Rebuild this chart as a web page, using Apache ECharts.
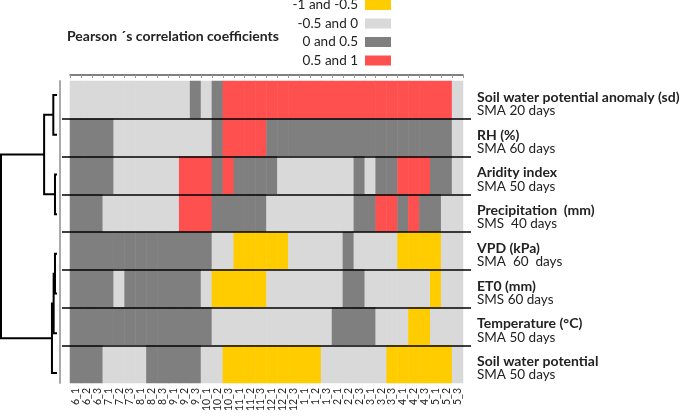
<!DOCTYPE html>
<html>
<head>
<meta charset="utf-8">
<script src="https://cdn.jsdelivr.net/npm/echarts@6/dist/echarts.min.js"></script>
<style>html,body{margin:0;padding:0;background:#fff}#c{width:685px;height:416px}</style>
</head>
<body>
<div id="c"></div>
<script>
// Time periods (month_dekad)
const periods = ['6_1','6_2','6_3','7_1','7_2','7_3','8_1','8_2','8_3','9_1','9_2','9_3',
  '10_1','10_2','10_3','11_1','11_2','11_3','12_1','12_2','12_3','1_1','1_2','1_3',
  '2_1','2_2','2_3','3_1','3_2','3_3','4_1','4_2','4_3','5_1','5_2','5_3'];

// Variables (rows, top to bottom)
const varNames = ['Soil water potential anomaly (sd)','RH (%)','Aridity index','Precipitation  (mm)',
  'VPD (kPa)','ET0 (mm)','Temperature (°C)','Soil water potential'];
const varWindows = ['SMA 20 days','SMA 60 days','SMA 50 days','SMS  40 days',
  'SMA  60  days','SMS 60 days','SMA 50 days','SMA 50 days'];

// Correlation class legend
const classLabels = ['-1 and -0.5','-0.5 and 0','0 and 0.5','0.5 and 1'];
const classColors = ['#FFCC00','#D9D9D9','#7F7F7F','#FF5050'];

// Class of Pearson correlation per period (0: -1..-0.5, 1: -0.5..0, 2: 0..0.5, 3: 0.5..1)
const swpAnomaly = [1,1,1,1,1,1,1,1,1,1,1,2,1,2,3,3,3,3,3,3,3,3,3,3,3,3,3,3,3,3,3,3,3,3,3,1];
const rh         = [2,2,2,2,1,1,1,1,1,1,1,1,1,2,3,3,3,3,2,2,2,2,2,2,2,2,2,2,2,2,2,2,2,2,2,1];
const aridity    = [2,2,2,2,1,1,1,1,1,1,3,3,3,2,3,2,2,2,2,1,1,1,1,1,1,1,2,1,2,2,3,3,3,2,2,1];
const precip     = [2,2,2,1,1,1,1,1,1,1,3,3,3,2,2,2,2,2,1,1,1,1,1,1,1,1,2,2,3,3,2,3,2,2,1,1];
const vpd        = [2,2,2,2,2,2,2,2,2,2,2,2,2,1,1,0,0,0,0,0,1,1,1,1,1,2,1,1,1,1,0,0,0,0,1,1];
const et0        = [2,2,2,2,1,2,2,2,2,2,2,2,1,0,0,0,0,0,1,1,1,1,1,1,1,2,2,1,1,1,1,1,1,0,1,1];
const temp       = [2,2,2,2,2,2,2,2,2,2,2,2,2,1,1,1,1,1,1,1,1,1,1,1,2,2,2,2,1,1,1,0,0,1,1,1];
const swp        = [2,2,2,1,1,1,1,2,2,2,2,2,1,1,0,0,0,0,0,0,0,0,0,1,1,1,1,1,1,0,0,0,0,0,0,1];
const rows = [swpAnomaly, rh, aridity, precip, vpd, et0, temp, swp];

// Dendrogram merges: [childA, childB, height]; leaves 0..7, new nodes 8..
const merges = [[0,1,0.66],[2,3,0.36],[8,9,2.3],[4,5,0.36],[11,6,0.6],[12,7,0.9],[10,13,10]];

const cells = [];
rows.forEach((r, yi) => r.forEach((v, xi) => cells.push([xi, yi, v])));

const nodes = [];
for (let i = 0; i < 8; i++) nodes.push({h: 0, y: i});
const dendroLines = [];
merges.forEach(([a, b, h]) => {
  const na = nodes[a], nb = nodes[b];
  dendroLines.push({coords: [[na.h, na.y], [h, na.y], [h, nb.y], [nb.h, nb.y]]});
  nodes.push({h: h, y: (na.y + nb.y) / 2});
});

const font = 'Lato, "Open Sans", sans-serif';
const chart = echarts.init(document.getElementById('c'), null, {renderer: 'canvas'});
chart.setOption({
  animation: false,
  title: {
    text: 'Pearson ´s correlation coefficients', left: 62, top: 24,
    textStyle: {fontFamily: font, fontWeight: 'bold', fontSize: 14, color: '#222'}
  },
  visualMap: {
    type: 'piecewise', seriesIndex: 0, dimension: 2, orient: 'vertical', inverse: true,
    right: 294, top: -2, padding: 0, itemWidth: 26, itemHeight: 10, itemGap: 4.5,
    itemSymbol: 'rect', align: 'right', textGap: 7, z: 20,
    pieces: classLabels.map((l, i) => ({value: i, label: l, color: classColors[i]})),
    textStyle: {fontFamily: font, fontSize: 13.5, color: '#222'}
  },
  grid: [
    {left: 70, right: 222, top: 81, bottom: 33},
    {left: 62, right: 214, top: 118.75, height: 226.5},
    {left: 1, width: 56, top: 95, height: 278}
  ],
  xAxis: [
    {type: 'category', gridIndex: 0, data: periods, position: 'bottom',
     axisLine: {show: false}, axisTick: {show: false},
     axisLabel: {rotate: 90, fontSize: 10.5, margin: 5, fontFamily: font, color: '#222', interval: 0}},
    {type: 'category', gridIndex: 0, data: periods, position: 'top', offset: 6,
     axisLine: {show: true, lineStyle: {color: '#555', width: 1.5}},
     axisTick: {show: true, inside: true, length: 3, interval: 0, lineStyle: {color: '#999'}},
     axisLabel: {show: false}},
    {type: 'value', gridIndex: 1, min: 0, max: 1, show: false},
    {type: 'value', gridIndex: 2, min: 0, max: 10, inverse: true, show: false}
  ],
  yAxis: [
    {type: 'category', gridIndex: 0, data: varNames, inverse: true, position: 'right',
     axisLine: {show: false}, axisTick: {show: false},
     axisLabel: {
       margin: 14, align: 'left', padding: [8, 0, 0, 0],
       formatter: (v, i) => '{b|' + v + '}\n{n|' + varWindows[i] + '}',
       rich: {
         b: {fontFamily: font, fontWeight: 'bold', fontSize: 14, color: '#222', lineHeight: 14},
         n: {fontFamily: font, fontSize: 13.5, color: '#222', lineHeight: 13}
       }
     }},
    {type: 'category', gridIndex: 0, data: varNames, inverse: true, position: 'left', offset: 10,
     axisLine: {show: true, lineStyle: {color: '#aaa', width: 2}}, axisTick: {show: false},
     axisLabel: {show: false}},
    {type: 'value', gridIndex: 1, min: 0, max: 6, interval: 1, z: 10,
     axisLine: {show: false}, axisTick: {show: false}, axisLabel: {show: false},
     splitLine: {show: true, lineStyle: {color: '#000', width: 1.5}}},
    {type: 'value', gridIndex: 2, min: 0, max: 7, inverse: true, show: false}
  ],
  series: [
    {type: 'heatmap', xAxisIndex: 0, yAxisIndex: 0, data: cells,
     itemStyle: {borderWidth: 0}, emphasis: {disabled: true}},
    {type: 'lines', coordinateSystem: 'cartesian2d', xAxisIndex: 3, yAxisIndex: 3,
     polyline: true, data: dendroLines,
     lineStyle: {color: '#000', width: 2, opacity: 1}, silent: true}
  ]
});
</script>
</body>
</html>
